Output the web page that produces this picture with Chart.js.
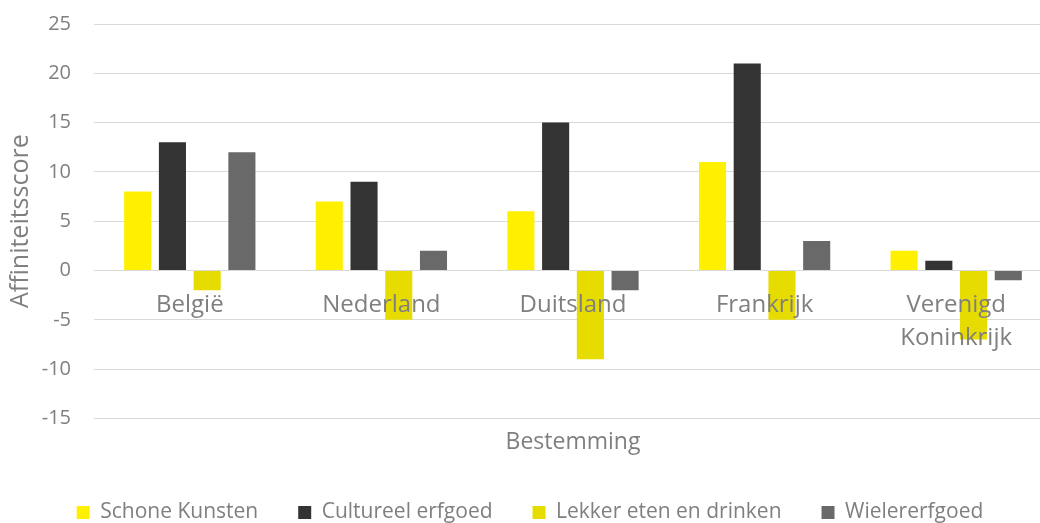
<!DOCTYPE html>
<html>
<head>
<meta charset="utf-8">
<script src="https://cdn.jsdelivr.net/npm/chart.js@4"></script>
<style>
  html, body { margin: 0; padding: 0; background: #fff; overflow: hidden; }
  /* the plot runs a little past the right edge of the window */
  #wrap { width: 1052px; height: 523px; position: relative; }
</style>
</head>
<body>
<div id="wrap"><canvas id="myChart"></canvas></div>
<script>
let labels1 = ['België', 'Nederland', 'Duitsland', 'Frankrijk', ['Verenigd', 'Koninkrijk']];

let schoneKunsten = [8, 7, 6, 11, 2];
let cultureelErfgoed = [13, 9, 15, 21, 1];
let lekkerEten = [-2, -5, -9, -5, -7];
let wielerErfgoed = [12, 2, -2, 3, -1];

let seriesNames = ['Schone Kunsten', 'Cultureel erfgoed', 'Lekker eten en drinken', 'Wielererfgoed'];
let colors1 = ['#FFF000', '#333333', '#E6DC00', '#696969'];

let textGray = '#7f7f7f';
let font = 'Open Sans';

// nudge the legend a little to the right
let legendShift = {
    id: 'legendShift',
    afterLayout(chart) {
        chart.legend.left += 4;
        chart.legend.right += 4;
    }
};

let myChart = document.getElementById('myChart').getContext('2d');

let chart = new Chart(myChart, {
    type: 'bar',
    data: {
        labels: labels1,
        datasets: [schoneKunsten, cultureelErfgoed, lekkerEten, wielerErfgoed].map((d, i) => ({
            label: seriesNames[i],
            data: d,
            backgroundColor: colors1[i],
            xAxisID: 'x',
            yAxisID: 'y',
            categoryPercentage: 0.725,
            barPercentage: 0.78
        }))
    },
    plugins: [legendShift],
    options: {
        responsive: true,
        maintainAspectRatio: false,
        animation: false,
        layout: { padding: { top: 24, left: 0, right: 0, bottom: -10 } },
        plugins: {
            tooltip: { enabled: false },
            legend: {
                position: 'bottom',
                labels: {
                    boxWidth: 13,
                    boxHeight: 13,
                    padding: 40,
                    color: textGray,
                    font: { family: font, size: 21 }
                }
            }
        },
        scales: {
            // category labels sit on the zero line, drawn over the bars
            x: {
                position: { y: 0 },
                grid: { display: false, drawTicks: false },
                border: { display: false },
                ticks: {
                    z: 1,
                    color: textGray,
                    padding: 18,
                    maxRotation: 0,
                    autoSkip: false,
                    font: { family: font, size: 24, lineHeight: 1.375 }
                }
            },
            xTitle: {
                type: 'category',
                axis: 'x',
                position: 'bottom',
                labels: labels1,
                grid: { display: false, drawTicks: false },
                border: { display: false },
                ticks: { display: false },
                title: {
                    display: true,
                    text: 'Bestemming',
                    color: textGray,
                    padding: { top: 10, bottom: 6 },
                    font: { family: font, size: 23, lineHeight: 1.2 }
                }
            },
            y: {
                min: -15,
                max: 25,
                afterFit(scale) {
                    scale.width = 94;
                    scale.paddingTop = 0;
                    scale.paddingBottom = 0;
                },
                ticks: {
                    stepSize: 5,
                    color: textGray,
                    padding: 23,
                    font: { family: font, size: 20 }
                },
                grid: { color: '#d9d9d9', lineWidth: 1, drawTicks: false },
                border: { display: false },
                title: {
                    display: true,
                    text: 'Affiniteitsscore',
                    color: textGray,
                    padding: { top: 6, bottom: 6 },
                    font: { family: font, size: 25, lineHeight: 1.2 }
                }
            }
        }
    }
});
</script>
</body>
</html>
